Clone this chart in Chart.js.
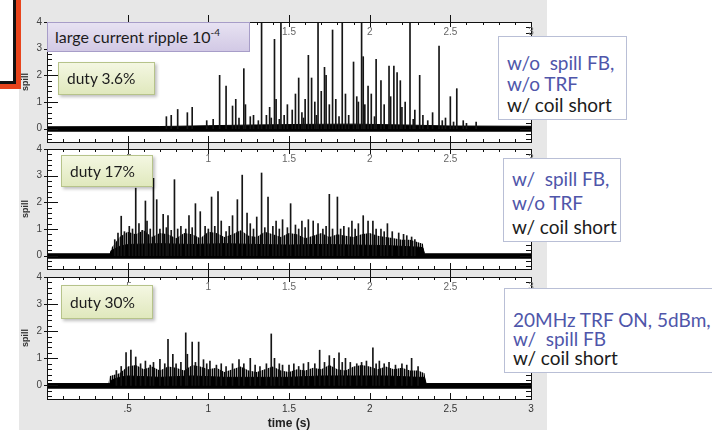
<!DOCTYPE html>
<html>
<head>
<meta charset="utf-8">
<script src="https://cdn.jsdelivr.net/npm/chart.js@4.4.0/dist/chart.umd.min.js"></script>
<style>
  body { margin: 0; width: 712px; height: 432px; background: #fff; position: relative; overflow: hidden; font-family: Lato, "Noto Sans", sans-serif; }
  .frame { position: absolute; left: 19px; top: 0; width: 528px; height: 430px; background: #e7e7e7; }
  canvas { position: absolute; left: 0; }
  .box { position: absolute; box-sizing: border-box; white-space: nowrap; color: #1c1c1c; }
  .ripple { left: 47px; top: 22px; width: 203px; height: 30px; background: linear-gradient(#e7e2f2, #d2c9e5); border: 1px solid #a79dc8; font-size: 16px; line-height: 28px; padding-left: 7px; }
  .ripple sup { font-size: 10px; vertical-align: 7px; line-height: 0; }
  .duty { background: linear-gradient(#f4f7e2, #e0e8bd); border: 1px solid #b6c38a; font-size: 15.5px; padding-left: 8px; box-shadow: 2px 2px 3px rgba(0,0,0,0.25); }
  .note { background: #fff; border: 1px solid #b9bfd6; font-size: 19px; line-height: 22px; padding: 4px 0 0 8px; }
  .blue { color: #4f56aa; }
  .redbox { position: absolute; left: -4px; top: -4px; width: 14px; height: 82px; border: 3px solid #111; outline: 5px solid #e8441c; background: #fff; }
</style>
</head>
<body>
<div class="frame"></div>
<div class="redbox"></div>
<canvas id="c1" width="545" height="142" style="top:11px"></canvas>
<canvas id="c2" width="545" height="142" style="top:138px"></canvas>
<canvas id="c3" width="545" height="166" style="top:266px"></canvas>

<div class="box ripple">large current ripple 10<sup>-4</sup></div>
<div class="box duty" style="left:58px;top:62px;width:97px;height:33px;line-height:31px">duty 3.6%</div>
<div class="box duty" style="left:61px;top:155px;width:92px;height:32px;line-height:30px">duty 17%</div>
<div class="box duty" style="left:61px;top:285px;width:92px;height:34px;line-height:32px">duty 30%</div>

<div class="box note" style="left:498px;top:36px;width:129px;height:84px;padding-top:15px;line-height:21px"><span class="blue">w/o&nbsp; spill FB,</span><br><span class="blue">w/o TRF</span><br>w/ coil short</div>
<div class="box note" style="left:503px;top:158px;width:118px;height:84px;padding-top:8px;line-height:24px"><span class="blue">w/&nbsp; spill FB,</span><br><span class="blue">w/o TRF</span><br>w/ coil short</div>
<div class="box note" style="left:504px;top:288px;width:220px;height:85px;padding-top:21px;line-height:19px"><span class="blue">20MHz TRF ON, 5dBm,</span><br><span class="blue">w/&nbsp; spill FB</span><br>w/ coil short</div>

<script>
// axes
const xTicks = [0.5, 1, 1.5, 2, 2.5, 3];
const xTickLabels = ['.5', '1', '1.5', '2', '2.5', '3'];
const yTicks = [0, 1, 2, 3, 4];
const yTickLabels = ['0', '1', '2', '3', '4'];
const floorY = -0.12; // bottom of the noise band

// panel 1: w/o spill FB, w/o TRF (duty 3.6%)
const coreT1 = [0, 0.7, 1.0, 1.3, 1.6, 1.9, 2.2, 2.5, 3.0];
const coreY1 = [0.07, 0.08, 0.11, 0.14, 0.16, 0.17, 0.14, 0.1, 0.09];
const spikes1 = [
  [0.74, 0.45], [0.77, 0.5], [0.81, 0.72], [0.87, 0.6], [0.90, 0.8], [0.99, 0.3], [1.03, 0.35],
  [1.07, 2.0], [1.11, 1.6], [1.15, 0.85], [1.17, 1.1], [1.19, 0.4], [1.22, 2.25], [1.23, 0.9],
  [1.26, 0.45], [1.28, 0.5], [1.31, 0.3], [1.33, 4.2], [1.36, 0.5], [1.38, 0.8], [1.39, 0.4],
  [1.41, 3.35], [1.42, 1.1], [1.44, 0.35], [1.45, 4.2], [1.47, 0.5], [1.49, 0.9], [1.52, 0.7],
  [1.54, 1.3], [1.56, 1.9], [1.58, 0.6], [1.59, 0.4], [1.60, 1.1], [1.62, 2.75], [1.64, 1.9],
  [1.66, 1.0], [1.67, 0.5], [1.68, 4.2], [1.70, 1.4], [1.72, 2.3], [1.73, 2.0], [1.75, 0.9],
  [1.77, 3.7], [1.79, 1.1], [1.81, 0.45], [1.83, 4.2], [1.85, 1.3], [1.87, 0.5], [1.90, 2.5],
  [1.92, 1.2], [1.93, 1.0], [1.95, 4.2], [1.96, 2.7], [1.97, 0.9], [1.99, 1.6], [2.01, 1.3],
  [2.03, 0.45], [2.04, 2.6], [2.07, 1.8], [2.09, 0.9], [2.12, 2.35], [2.13, 1.2], [2.15, 2.35],
  [2.17, 2.1], [2.19, 1.8], [2.20, 0.8], [2.22, 1.0], [2.25, 4.2], [2.27, 0.35], [2.28, 0.7],
  [2.31, 2.0], [2.33, 0.5], [2.36, 0.3], [2.39, 0.6], [2.43, 3.1], [2.45, 0.3], [2.47, 0.4],
  [2.50, 1.2], [2.52, 0.25], [2.54, 1.5], [2.58, 0.3], [2.60, 0.2], [2.66, 0.25]
];

// panel 2: w/ spill FB, w/o TRF (duty 17%)
const coreT2 = [0, 0.39, 0.40, 0.45, 0.5, 0.7, 0.9, 1.1, 1.3, 1.5, 1.7, 1.9, 2.1, 2.3, 2.33, 2.34, 3.0];
const coreY2 = [0.07, 0.07, 0.2, 0.35, 0.42, 0.45, 0.42, 0.45, 0.42, 0.4, 0.42, 0.4, 0.38, 0.32, 0.3, 0.07, 0.07];
const midT2 = [0.39, 0.40, 0.45, 0.5, 0.55, 0.6, 0.65, 0.7, 0.75, 0.8, 0.85, 0.9, 0.95, 1.0, 1.05, 1.1,
  1.15, 1.2, 1.25, 1.3, 1.35, 1.4, 1.45, 1.5, 1.55, 1.6, 1.65, 1.7, 1.75, 1.8, 1.85, 1.9, 1.95, 2.0,
  2.05, 2.1, 2.15, 2.2, 2.25, 2.3, 2.33, 2.34];
const midY2 = [0.07, 0.3, 0.7, 0.9, 0.8, 0.95, 0.7, 0.85, 0.8, 0.65, 0.85, 0.8, 0.65, 0.9, 0.85, 0.7,
  0.8, 0.95, 0.75, 0.7, 0.9, 0.8, 0.7, 0.85, 0.8, 0.65, 0.75, 0.85, 0.7, 0.8, 0.75, 0.7, 0.8, 0.85,
  0.75, 0.7, 0.65, 0.6, 0.6, 0.5, 0.45, 0.07];
const spikes2 = [
  [0.42, 0.6], [0.44, 0.85], [0.46, 1.48], [0.48, 0.9], [0.51, 1.1], [0.53, 1.0], [0.55, 2.53],
  [0.57, 1.2], [0.59, 0.95], [0.61, 2.05], [0.62, 1.3], [0.64, 1.0], [0.66, 2.9], [0.68, 2.1],
  [0.70, 1.0], [0.72, 1.55], [0.74, 1.05], [0.75, 1.5], [0.77, 0.95], [0.79, 2.85], [0.81, 1.0],
  [0.83, 1.1], [0.86, 1.0], [0.88, 1.5], [0.90, 1.05], [0.92, 1.95], [0.95, 1.65], [0.98, 1.1],
  [1.00, 1.0], [1.02, 2.2], [1.04, 1.1], [1.06, 2.4], [1.08, 1.3], [1.11, 0.9], [1.13, 1.1],
  [1.15, 1.5], [1.18, 2.1], [1.21, 3.02], [1.24, 1.6], [1.26, 1.2], [1.28, 1.0], [1.30, 1.45],
  [1.33, 3.1], [1.35, 1.05], [1.37, 2.2], [1.40, 1.1], [1.42, 1.3], [1.44, 1.0], [1.46, 1.35],
  [1.49, 1.05], [1.51, 1.95], [1.54, 1.15], [1.56, 1.0], [1.58, 1.3], [1.60, 1.05], [1.62, 1.35],
  [1.65, 1.3], [1.68, 1.2], [1.71, 1.0], [1.73, 1.1], [1.75, 2.3], [1.77, 1.0], [1.80, 2.2],
  [1.82, 1.0], [1.84, 1.1], [1.87, 1.05], [1.89, 1.3], [1.91, 1.0], [1.93, 1.2], [1.96, 1.5],
  [1.99, 1.3], [2.02, 1.3], [2.04, 1.0], [2.07, 1.0], [2.09, 0.9], [2.11, 1.2], [2.14, 0.9],
  [2.18, 0.85], [2.21, 0.8], [2.23, 0.75], [2.26, 0.7], [2.28, 0.6]
];

// panel 3: 20MHz TRF ON, w/ spill FB (duty 30%)
const coreT3 = [0, 0.39, 0.40, 0.45, 0.5, 0.7, 0.9, 1.1, 1.3, 1.5, 1.7, 1.9, 2.1, 2.3, 2.34, 2.35, 3.0];
const coreY3 = [0.07, 0.07, 0.2, 0.3, 0.35, 0.3, 0.35, 0.3, 0.3, 0.3, 0.35, 0.35, 0.35, 0.3, 0.3, 0.07, 0.07];
const midT3 = [0.38, 0.39, 0.45, 0.5, 0.55, 0.6, 0.65, 0.7, 0.75, 0.8, 0.85, 0.9, 0.95, 1.0, 1.05, 1.1,
  1.15, 1.2, 1.25, 1.3, 1.35, 1.4, 1.45, 1.5, 1.55, 1.6, 1.65, 1.7, 1.75, 1.8, 1.85, 1.9, 1.95, 2.0,
  2.05, 2.1, 2.15, 2.2, 2.25, 2.3, 2.34, 2.35];
const midY3 = [0.07, 0.35, 0.45, 0.7, 0.75, 0.6, 0.7, 0.55, 0.7, 0.65, 0.55, 0.75, 0.7, 0.6, 0.65, 0.5,
  0.6, 0.7, 0.55, 0.5, 0.6, 0.7, 0.55, 0.5, 0.6, 0.55, 0.65, 0.6, 0.75, 0.6, 0.55, 0.7, 0.75, 0.7,
  0.6, 0.7, 0.6, 0.65, 0.55, 0.55, 0.45, 0.07];
const spikes3 = [
  [0.43, 0.55], [0.46, 0.7], [0.49, 1.21], [0.52, 1.3], [0.55, 1.05], [0.58, 0.8], [0.61, 0.9],
  [0.64, 0.75], [0.66, 0.85], [0.70, 0.96], [0.73, 0.8], [0.75, 1.7], [0.78, 1.15], [0.80, 0.8],
  [0.83, 0.85], [0.86, 1.94], [0.87, 1.15], [0.90, 1.6], [0.92, 0.85], [0.94, 1.6], [0.97, 0.95],
  [0.99, 0.8], [1.01, 0.9], [1.05, 0.75], [1.08, 0.8], [1.11, 0.7], [1.15, 0.8], [1.19, 0.95],
  [1.22, 0.8], [1.26, 1.0], [1.29, 0.75], [1.32, 0.7], [1.36, 0.8], [1.39, 1.9], [1.41, 1.0],
  [1.44, 0.8], [1.46, 0.75], [1.50, 0.75], [1.53, 0.8], [1.56, 0.7], [1.59, 0.8], [1.62, 0.85],
  [1.66, 0.8], [1.69, 1.3], [1.72, 0.85], [1.75, 1.1], [1.78, 1.0], [1.81, 1.2], [1.83, 0.85],
  [1.85, 1.0], [1.88, 0.85], [1.92, 0.8], [1.95, 0.85], [1.98, 0.9], [2.02, 1.39], [2.04, 0.8],
  [2.06, 0.9], [2.09, 0.8], [2.12, 0.85], [2.16, 0.75], [2.20, 0.8], [2.23, 0.75], [2.26, 1.0],
  [2.30, 0.7]
];

// white plot area, frame, inward ticks and the x labels of the panel above
const framePlugin = {
  id: 'frame',
  beforeDraw(chart) {
    const { ctx, chartArea: a } = chart;
    ctx.save();
    ctx.fillStyle = '#fff';
    ctx.fillRect(a.left, a.top, a.right - a.left, a.bottom - a.top);
    ctx.restore();
  },
  afterDraw(chart) {
    const { ctx, chartArea: a, scales } = chart;
    const x = scales.x, y = scales.y;
    ctx.save();
    ctx.strokeStyle = '#111';
    ctx.lineWidth = 1;
    ctx.strokeRect(Math.round(a.left) + 0.5, Math.round(a.top) + 0.5, Math.round(a.right - a.left), Math.round(a.bottom - a.top));
    ctx.beginPath();
    for (let i = 1; i < 30; i++) {
      const px = Math.round(x.getPixelForValue(i / 10)) + 0.5;
      const major = i % 5 === 0;
      ctx.moveTo(px, a.top - (major ? 7 : 0)); ctx.lineTo(px, a.top + (major ? 5 : 3));
      ctx.moveTo(px, a.bottom); ctx.lineTo(px, a.bottom - (major ? 6 : 3));
    }
    for (let i = -2; i <= 20; i++) {
      const py = Math.round(y.getPixelForValue(i / 5)) + 0.5;
      const major = i % 5 === 0;
      ctx.moveTo(a.left - (major ? 3 : 0), py); ctx.lineTo(a.left + (major ? 11 : 5), py);
      ctx.moveTo(a.right, py); ctx.lineTo(a.right - (major ? 11 : 5), py);
    }
    ctx.stroke();
    ctx.fillStyle = '#666';
    ctx.font = '10px "Liberation Sans"';
    ctx.textAlign = 'center';
    ctx.textBaseline = 'middle';
    xTicks.forEach((v, i) => ctx.fillText(xTickLabels[i], x.getPixelForValue(v), a.top + 10));
    ctx.restore();
  }
};

function makePanel(id, coreT, coreY, midT, midY, spikes, bottom) {
  const ctx = document.getElementById(id).getContext('2d');
  const sc = document.createElement('canvas');
  sc.width = 2; sc.height = 1;
  const g = sc.getContext('2d');
  g.fillStyle = '#000'; g.fillRect(0, 0, 1, 1);
  g.fillStyle = 'rgba(0,0,0,0.4)'; g.fillRect(1, 0, 1, 1);
  const stripes = ctx.createPattern(sc, 'repeat');

  const datasets = [{
    type: 'line',
    data: coreT.map((t, i) => ({ x: t, y: coreY[i] })),
    borderColor: '#000', borderWidth: 1, backgroundColor: '#000',
    fill: { value: floorY }, pointRadius: 0, order: 2
  }, {
    type: 'bar',
    data: spikes.map(([t, h]) => ({ x: t, y: [0, h] })),
    backgroundColor: '#151515', barThickness: 1, grouped: false, order: 1
  }];
  if (midT) {
    datasets.push({
      type: 'line',
      data: midT.map((t, i) => ({ x: t, y: midY[i] })),
      borderWidth: 0, backgroundColor: stripes,
      fill: { value: 0 }, pointRadius: 0, order: 3
    });
  }

  return new Chart(ctx, {
    type: 'line',
    data: { datasets },
    options: {
      responsive: false,
      animation: false,
      layout: { padding: { top: 8, right: 14, bottom: bottom ? 0 : 8, left: 0 } },
      plugins: { legend: { display: false }, tooltip: { enabled: false } },
      scales: {
        x: {
          type: 'linear', min: 0, max: 3, offset: false, display: bottom,
          grid: { display: false, drawTicks: false }, border: { display: false },
          afterBuildTicks: s => { s.ticks = xTicks.map(v => ({ value: v })); },
          ticks: {
            padding: 4, color: '#333', autoSkip: false, maxRotation: 0,
            font: { size: 10, family: 'Liberation Sans' },
            callback: (v, i) => xTickLabels[i]
          },
          title: {
            display: true, text: 'time (s)', color: '#222',
            font: { size: 12, weight: 'bold', family: 'Liberation Sans' },
            padding: { top: 1, bottom: 1 }
          },
          afterFit: s => { if (bottom) s.height = 33; }
        },
        y: {
          type: 'linear', min: -0.5, max: 4,
          grid: { display: false, drawTicks: false }, border: { display: false },
          afterBuildTicks: s => { s.ticks = yTicks.map(v => ({ value: v })); },
          ticks: {
            padding: 5, color: '#444',
            font: { size: 10, family: 'Liberation Sans' },
            callback: (v, i) => yTickLabels[i]
          },
          title: {
            display: true, text: 'spill', color: '#333',
            font: { size: 9, weight: 'bold', family: 'Liberation Sans' },
            padding: { top: 20 }
          },
          afterFit: s => { s.width = 47; }
        }
      }
    },
    plugins: [framePlugin]
  });
}

makePanel('c1', coreT1, coreY1, null, null, spikes1, false);
makePanel('c2', coreT2, coreY2, midT2, midY2, spikes2, false);
makePanel('c3', coreT3, coreY3, midT3, midY3, spikes3, true);
</script>
</body>
</html>
